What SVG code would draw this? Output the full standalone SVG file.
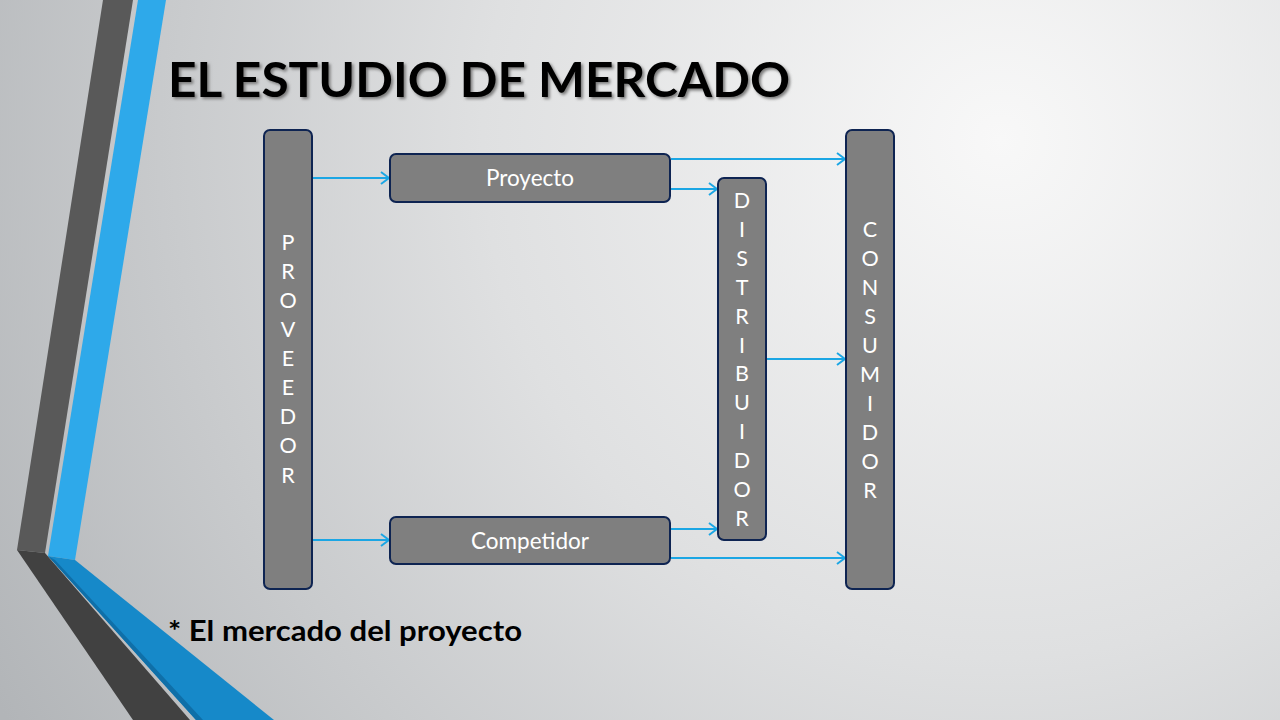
<svg xmlns="http://www.w3.org/2000/svg" width="1280" height="720" viewBox="0 0 1280 720">
<defs>
<radialGradient id="bg" cx="1000" cy="140" r="1150" gradientUnits="userSpaceOnUse">
<stop offset="0" stop-color="#F8F8F8"/>
<stop offset="0.45" stop-color="#DFE0E1"/>
<stop offset="1" stop-color="#B2B5B8"/>
</radialGradient>
<marker id="arr" markerWidth="12" markerHeight="14" refX="10" refY="7" orient="auto" markerUnits="userSpaceOnUse">
<path d="M2,1 L10,7 L2,13" fill="none" stroke="#1BA6E4" stroke-width="2"/>
</marker>
<filter id="sh" x="-5%" y="-20%" width="110%" height="140%">
<feGaussianBlur stdDeviation="1.5"/>
</filter>
</defs>
<style>
.node{fill:#7F7F7F;stroke:#0E2452;stroke-width:2}
.lbl{font-family:Lato,"Open Sans",sans-serif;font-size:22.5px;fill:#FFFFFF;text-anchor:middle}
.vl{font-family:Lato,"Open Sans",sans-serif;font-size:21.5px;fill:#FFFFFF;text-anchor:middle}
.con{fill:none;stroke:#1BA6E4;stroke-width:2;marker-end:url(#arr)}
.title{font-family:Lato,"Open Sans",sans-serif;font-weight:bold;font-size:48px}
</style>
<rect width="1280" height="720" fill="url(#bg)"/>
<g id="decoration">
<polygon points="103,0 133,0 45,553 17,550" fill="#595959"/>
<polygon points="17,550 45,553 190,720 133,720" fill="#414141"/>
<polygon points="138,0 166,0 75,560 48,556" fill="#2EA9EA"/>
<polygon points="48,556 75,560 274,720 196,720" fill="#1689C9"/>
<polygon points="48,556 55,560 203,720 196,720" fill="#0F6FA8"/>
</g>
<g id="title">
<text x="170" y="99" class="title" fill="#7A7A7A" filter="url(#sh)" textLength="622" lengthAdjust="spacingAndGlyphs">EL ESTUDIO DE MERCADO</text>
<text x="168" y="97" class="title" fill="#000000" textLength="622" lengthAdjust="spacingAndGlyphs">EL ESTUDIO DE MERCADO</text>
</g>
<g id="connectors">
<line class="con" x1="313" y1="178" x2="389" y2="178"/>
<line class="con" x1="313" y1="540" x2="389" y2="540"/>
<line class="con" x1="671" y1="159" x2="845" y2="159"/>
<line class="con" x1="671" y1="189" x2="717" y2="189"/>
<line class="con" x1="767" y1="359" x2="845" y2="359"/>
<line class="con" x1="671" y1="529" x2="717" y2="529"/>
<line class="con" x1="671" y1="558" x2="845" y2="558"/>
</g>
<g id="proveedor">
<rect class="node" x="264" y="130" width="48" height="459" rx="6"/>
<text class="vl" x="288"><tspan x="288" y="250">P</tspan><tspan x="288" y="279">R</tspan><tspan x="288" y="308">O</tspan><tspan x="288" y="337">V</tspan><tspan x="288" y="366">E</tspan><tspan x="288" y="395">E</tspan><tspan x="288" y="424">D</tspan><tspan x="288" y="453">O</tspan><tspan x="288" y="483">R</tspan></text>
</g>
<g id="proyecto">
<rect class="node" x="390" y="154" width="280" height="48" rx="6"/>
<text class="lbl" x="530" y="186">Proyecto</text>
</g>
<g id="competidor">
<rect class="node" x="390" y="517" width="280" height="47" rx="6"/>
<text class="lbl" x="530" y="549">Competidor</text>
</g>
<g id="distribuidor">
<rect class="node" x="718" y="178" width="48" height="362" rx="6"/>
<text class="vl" x="742"><tspan x="742" y="208">D</tspan><tspan x="742" y="237">I</tspan><tspan x="742" y="266">S</tspan><tspan x="742" y="295">T</tspan><tspan x="742" y="324">R</tspan><tspan x="742" y="353">I</tspan><tspan x="742" y="381">B</tspan><tspan x="742" y="410">U</tspan><tspan x="742" y="439">I</tspan><tspan x="742" y="468">D</tspan><tspan x="742" y="497">O</tspan><tspan x="742" y="526">R</tspan></text>
</g>
<g id="consumidor">
<rect class="node" x="846" y="130" width="48" height="459" rx="6"/>
<text class="vl" x="870"><tspan x="870" y="237">C</tspan><tspan x="870" y="266">O</tspan><tspan x="870" y="295">N</tspan><tspan x="870" y="324">S</tspan><tspan x="870" y="353">U</tspan><tspan x="870" y="382">M</tspan><tspan x="870" y="411">I</tspan><tspan x="870" y="440">D</tspan><tspan x="870" y="469">O</tspan><tspan x="870" y="498">R</tspan></text>
</g>
<g id="subtitle">
<text x="168" y="641" font-family="Lato,'Open Sans',sans-serif" font-weight="bold" font-size="29" fill="#000000" textLength="354" lengthAdjust="spacingAndGlyphs">* El mercado del proyecto</text>
</g>
</svg>
